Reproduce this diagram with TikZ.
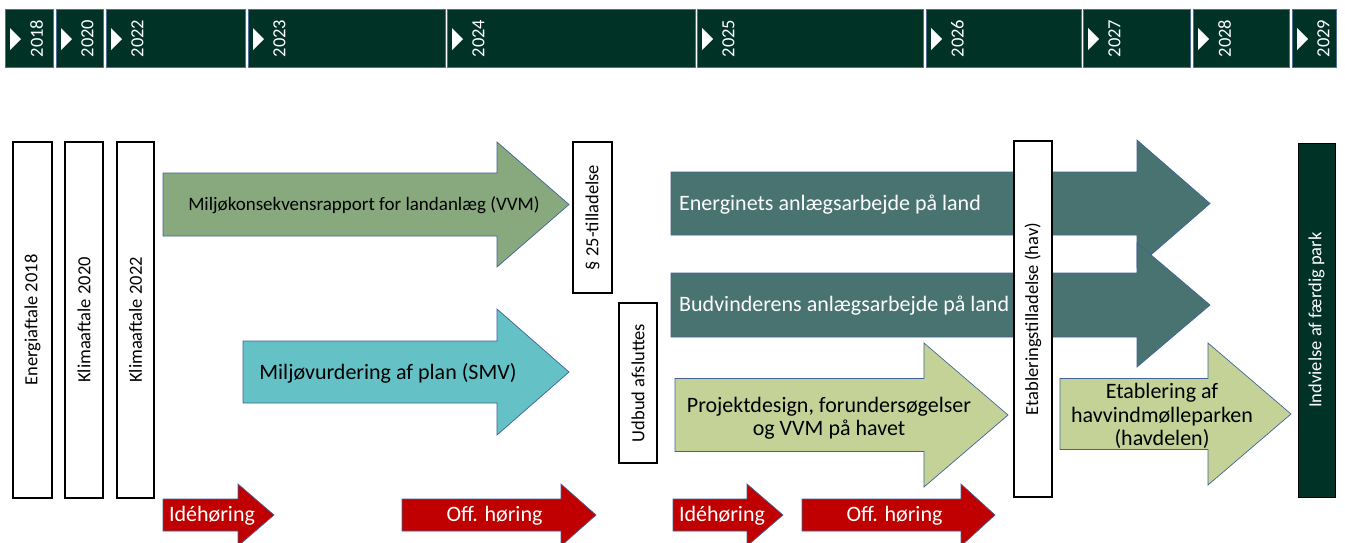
\documentclass[tikz,border=0pt]{standalone}
\usepackage{fontspec}
\setmainfont{Carlito}
\definecolor{dkgreen}{RGB}{1,50,38}
\definecolor{sage}{RGB}{136,168,126}
\definecolor{tealc}{RGB}{100,193,197}
\definecolor{dkteal}{RGB}{72,115,112}
\definecolor{ltgreen}{RGB}{196,210,152}
\definecolor{redc}{RGB}{192,0,0}
\definecolor{outl}{RGB}{65,100,150}
\definecolor{cellline}{RGB}{80,110,150}
\newcommand\yearcell[3]{%
  \path[yearbox] (#2,9) rectangle (#3,67);
  \path[fill=white] (#2+5,28) -- (#2+16,39) -- (#2+5,50) -- cycle;
  \node[yeartxt] (y#1) at (#2+31.5,38.5) {#1};
}
\newcommand\myarrow[7]{%
  \path[#1] (#2,#5-#6) -- (#3,#5-#6) -- (#3,#5-#7) -- (#4,#5) -- (#3,#5+#7) -- (#3,#5+#6) -- (#2,#5+#6) -- cycle;
}
\newcommand\tallbox[7]{%
  \path[#1] (#3,#4) rectangle (#5,#6);
  \node[vtxt] (#2) at ({(#3+#5)/2},{(#4+#6)/2}) {#7};
}
\begin{document}
\begin{tikzpicture}[x=1pt,y=-1pt,
  yearbox/.style={fill=dkgreen,draw=cellline,line width=0.8pt},
  yeartxt/.style={rotate=90,inner sep=0pt,text=white,font=\fontsize{18.5}{20}\selectfont},
  vtxt/.style={rotate=90,inner sep=0pt,font=\fontsize{18.5}{20}\selectfont},
  whitebox/.style={fill=white,draw=black,line width=1.3pt},
  darkbox/.style={fill=dkgreen,draw=black,line width=1pt},
  arr/.style={draw=outl,line width=0.7pt},
  htxt/.style={inner sep=0pt,align=center,font=\fontsize{22}{23.5}\selectfont}
]
\useasboundingbox (0,0) rectangle (1345,542);
% timeline
\yearcell{2018}{5}{53}
\yearcell{2020}{56}{103}
\yearcell{2022}{106}{245}
\yearcell{2023}{248}{445}
\yearcell{2024}{447}{695}
\yearcell{2025}{697}{923}
\yearcell{2026}{926}{1081}
\yearcell{2027}{1083}{1190}
\yearcell{2028}{1193}{1289}
\yearcell{2029}{1292}{1336}
% agreement boxes
\tallbox{whitebox}{energi}{13}{142}{52}{498}{Energiaftale 2018}
\tallbox{whitebox}{klima20}{65}{142}{103}{498}{Klimaaftale 2020}
\tallbox{whitebox}{klima22}{117}{142}{154}{498}{Klimaaftale 2022}
% land arrows
\myarrow{arr,fill=sage}{163}{497}{569}{204.5}{31.5}{62.5}
\node[htxt,font=\fontsize{19}{21}\selectfont] (mkr) at (364,205) {Miljøkonsekvensrapport for landanlæg (VVM)};
\myarrow{arr,fill=tealc}{243}{497}{569}{372}{31}{63}
\node[htxt] (smv) at (388,373) {Miljøvurdering af plan (SMV)};
\tallbox{whitebox}{p25}{573}{142}{612}{293}{§ 25-tilladelse}
\tallbox{whitebox}{udbud}{619}{303}{657}{463}{Udbud afsluttes}
% construction arrows
\myarrow{arr,fill=dkteal}{671}{1137}{1210}{203.5}{31.5}{63.5}
\node[htxt,anchor=west,text=white] (energinet) at (679,205) {Energinets anlægsarbejde på land};
\myarrow{arr,fill=dkteal}{671}{1137}{1210}{305}{32}{62}
\node[htxt,anchor=west,text=white] (budvinder) at (679,306) {Budvinderens anlægsarbejde på land};
\myarrow{arr,fill=ltgreen}{675}{924}{1008}{415}{36.5}{72}
\node[htxt] (projekt) at (829,418) {Projektdesign, forundersøgelser\\og VVM på havet};
\tallbox{whitebox}{etabltill}{1014}{141}{1052}{497}{Etableringstilladelse (hav)}
\myarrow{arr,fill=ltgreen}{1060}{1208}{1291}{414}{35.5}{71}
\node[htxt] (etabl) at (1162,416) {Etablering af\\havvindmølleparken\\(havdelen)};
\tallbox{darkbox}{indviel}{1298}{143}{1335}{497}{\textcolor{white}{Indvielse af færdig park}}
% hearings
\myarrow{arr,fill=redc}{163}{238}{274}{515}{16}{31}
\node[htxt,text=white] (ide1) at (212,516) {Idéhøring};
\myarrow{arr,fill=redc}{402}{561}{596}{515}{16}{31}
\node[htxt,text=white] (off1) at (494.5,516) {Off. høring};
\myarrow{arr,fill=redc}{673}{747}{783}{515}{16}{31}
\node[htxt,text=white] (ide2) at (722,516) {Idéhøring};
\myarrow{arr,fill=redc}{802}{961}{995}{515}{16}{31}
\node[htxt,text=white] (off2) at (894.5,516) {Off. høring};
\end{tikzpicture}
\end{document}
